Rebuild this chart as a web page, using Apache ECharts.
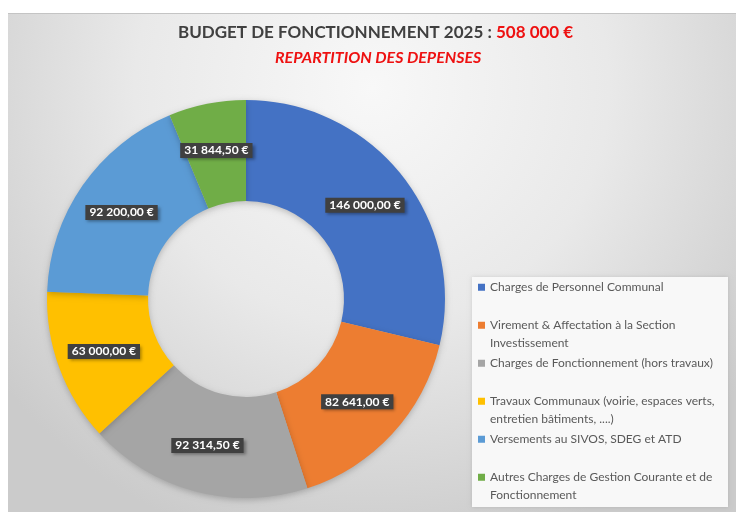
<!DOCTYPE html>
<html>
<head>
<meta charset="utf-8">
<script src="https://cdn.jsdelivr.net/npm/echarts@6/dist/echarts.min.js"></script>
<style>
  html, body { margin: 0; padding: 0; background: #fff; }
  #chart { width: 736px; height: 512px; }
</style>
</head>
<body>
<div id="chart"></div>
<script>
// categories (a '\n' marks the legend line break)
const categories = [
  'Charges de Personnel Communal',
  'Virement & Affectation à la Section\nInvestissement',
  'Charges de Fonctionnement (hors travaux)',
  'Travaux Communaux (voirie, espaces verts,\nentretien bâtiments, ....)',
  'Versements au SIVOS, SDEG et ATD',
  'Autres Charges de Gestion Courante et de\nFonctionnement'
]
const values = [146000, 82641, 92314.5, 63000, 92200, 31844.5]
const totalLabel = '508 000 €'

const palette = ['#4472C4', '#ED7D31', '#A5A5A5', '#FFC000', '#5B9BD5', '#70AD47']

function euro(v) {
  const parts = v.toFixed(2).split('.')
  const int = parts[0].replace(/\B(?=(\d{3})+(?!\d))/g, ' ')
  return int + ',' + parts[1] + ' €'
}

const chart = echarts.init(document.getElementById('chart'))

chart.setOption({
  backgroundColor: '#ffffff',
  color: palette,
  animation: false,
  graphic: [
    {
      type: 'rect',
      z: -10,
      shape: { x: 8, y: 13, width: 728, height: 499 },
      style: {
        fill: {
          type: 'radial', x: 0.5, y: 0.15, r: 0.95,
          colorStops: [
            { offset: 0, color: '#f8f8f8' },
            { offset: 0.5, color: '#e9e9e9' },
            { offset: 1, color: '#cbcbcb' }
          ]
        }
      }
    },
    {
      type: 'line',
      z: -9,
      shape: { x1: 8, y1: 13.5, x2: 736, y2: 13.5 },
      style: { stroke: '#c4c4c4', lineWidth: 1 }
    },
    {
      type: 'rect',
      z: -8,
      shape: { x: 472, y: 277, width: 256, height: 230 },
      style: {
        fill: '#f8f8f8',
        shadowBlur: 4,
        shadowColor: 'rgba(0,0,0,0.12)'
      }
    }
  ],
  title: [
    {
      left: 178,
      top: 24,
      padding: 0,
      text: '{a|BUDGET DE FONCTIONNEMENT 2025 : }{b|' + totalLabel + '}',
      textStyle: {
        rich: {
          a: { fontFamily: 'Lato', fontWeight: 'bold', fontSize: 17, color: '#404040' },
          b: { fontFamily: 'Lato', fontWeight: 'bold', fontSize: 17, color: '#ee1111' }
        }
      }
    },
    {
      left: 275,
      top: 50,
      padding: 0,
      text: 'REPARTITION DES DEPENSES',
      textStyle: {
        fontFamily: 'Lato',
        fontWeight: 'bold',
        fontStyle: 'italic',
        fontSize: 16,
        color: '#ee1111'
      }
    }
  ],
  legend: {
    orient: 'vertical',
    left: 478,
    top: 261,
    padding: 0,
    icon: 'rect',
    itemWidth: 7,
    itemHeight: 7,
    itemGap: -14.5,
    selectedMode: false,
    data: categories,
    formatter: function (name) {
      const lines = name.split('\n')
      return '\u00a0\n' + lines[0] + '\n' + (lines[1] || '\u00a0')
    },
    textStyle: {
      fontFamily: 'Lato',
      fontSize: 12,
      lineHeight: 17.5,
      color: '#595959'
    }
  },
  series: [
    {
      type: 'pie',
      center: [246, 299],
      radius: [98, 199],
      startAngle: 90,
      clockwise: true,
      avoidLabelOverlap: false,
      emphasis: { disabled: true },
      itemStyle: {
        shadowBlur: 6,
        shadowOffsetY: 2,
        shadowColor: 'rgba(0,0,0,0.22)'
      },
      labelLine: { show: false },
      label: {
        show: true,
        position: 'inside',
        formatter: function (p) { return euro(p.value) },
        fontFamily: 'Lato',
        fontWeight: 'bold',
        fontSize: 12,
        color: '#ffffff',
        backgroundColor: '#404040',
        padding: [2, 4, 1, 4],
        shadowBlur: 3,
        shadowOffsetX: 2,
        shadowOffsetY: 2,
        shadowColor: 'rgba(0,0,0,0.35)'
      },
      data: categories.map(function (c, i) {
        return { name: c, value: values[i] }
      })
    }
  ]
})
</script>
</body>
</html>
